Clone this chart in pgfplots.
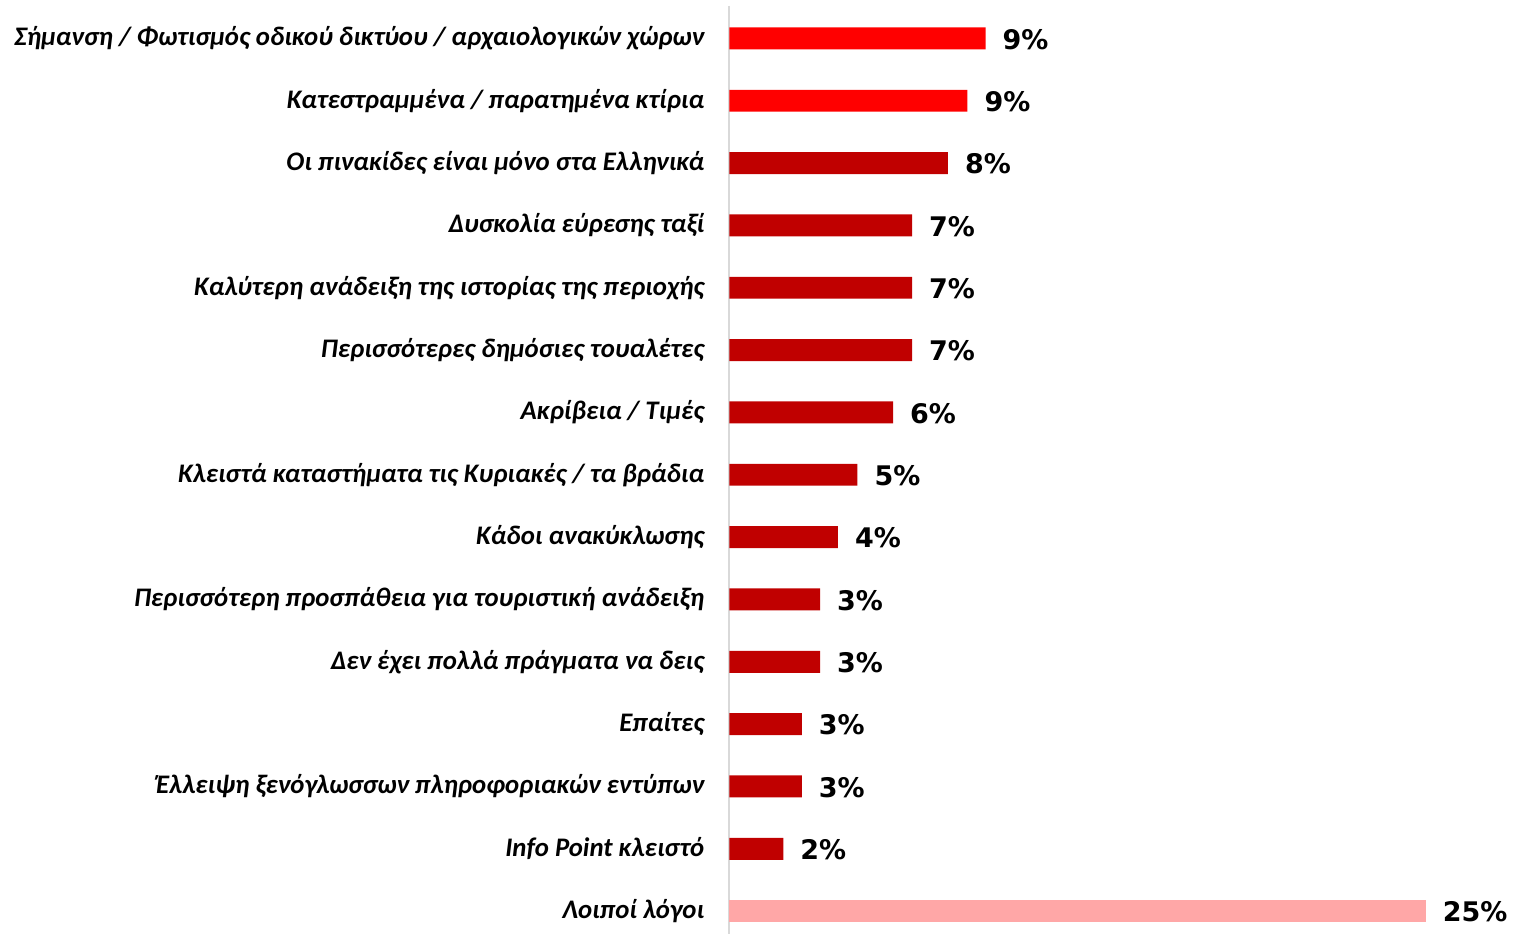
\documentclass[border=0pt]{standalone}
\usepackage{fontspec}
\setmainfont{Carlito}
\newfontfamily\valfont{DejaVu Sans}
\usepackage{pgfplots}
\pgfplotsset{compat=1.18}
\definecolor{brightred}{HTML}{FF0000}
\definecolor{darkred}{HTML}{C00000}
\definecolor{pinkred}{HTML}{FFA7A7}
\begin{document}
\begin{tikzpicture}
\begin{axis}[
  at={(0,0)}, anchor=south west,
  scale only axis,
  width=348.5pt, height=464.5pt,
  xmin=0, xmax=25,
  ymin=-0.52, ymax=14.37,
  y dir=reverse,
  xbar, bar width=11pt, bar shift=0pt,
  axis x line=none,
  axis y line=left,
  y axis line style={draw=black!15, line width=1pt, -},
  ytick={0,...,14},
  yticklabels={
    {Σήμανση / Φωτισμός οδικού δικτύου / αρχαιολογικών χώρων},
    {Κατεστραμμένα / παρατημένα κτίρια},
    {Οι πινακίδες είναι μόνο στα Ελληνικά},
    {Δυσκολία εύρεσης ταξί},
    {Καλύτερη ανάδειξη της ιστορίας της περιοχής},
    {Περισσότερες δημόσιες τουαλέτες},
    {Ακρίβεια / Τιμές},
    {Κλειστά καταστήματα τις Κυριακές / τα βράδια},
    {Κάδοι ανακύκλωσης},
    {Περισσότερη προσπάθεια για τουριστική ανάδειξη},
    {Δεν έχει πολλά πράγματα να δεις},
    {Επαίτες},
    {Έλλειψη ξενόγλωσσων πληροφοριακών εντύπων},
    {Info Point κλειστό},
    {Λοιποί λόγοι}},
  major tick length=0pt,
  yticklabel style={font=\fontsize{13.4}{15}\selectfont\bfseries\itshape, xshift=-9pt},
  point meta=explicit symbolic,
  nodes near coords,
  nodes near coords style={font=\valfont\fontsize{13.5}{15}\selectfont\bfseries, anchor=west, xshift=5pt, yshift=-0.5pt, text=black},
  clip=false,
]
\addplot[fill=brightred, draw=none] coordinates {(9.2,0) [9\%] (8.55,1) [9\%]};
\addplot[fill=darkred, draw=none] coordinates {(7.85,2) [8\%] (6.56,3) [7\%] (6.56,4) [7\%] (6.56,5) [7\%] (5.88,6) [6\%] (4.6,7) [5\%] (3.9,8) [4\%] (3.26,9) [3\%] (3.26,10) [3\%] (2.6,11) [3\%] (2.6,12) [3\%] (1.94,13) [2\%]};
\addplot[fill=pinkred, draw=none] coordinates {(25,14) [25\%]};
\end{axis}
\useasboundingbox (-365pt,0) rectangle (392pt,467.5pt);
\end{tikzpicture}
\end{document}
